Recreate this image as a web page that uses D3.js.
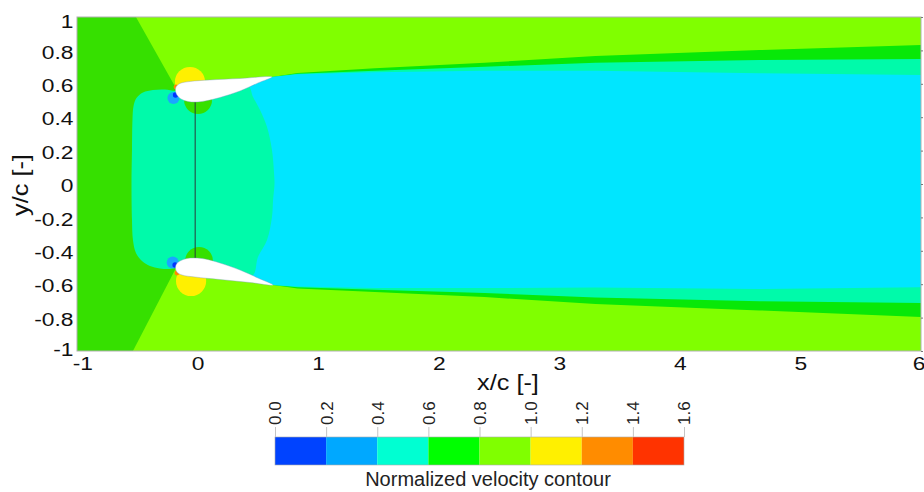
<!DOCTYPE html>
<html>
<head>
<meta charset="utf-8">
<script src="https://cdnjs.cloudflare.com/ajax/libs/d3/7.8.5/d3.min.js"></script>
<style>
  body { margin: 0; background: #fff; }
  svg { display: block; font-family: "Liberation Sans", Arial, sans-serif; }
</style>
</head>
<body>
<svg id="chart"></svg>
<script>
// tick values
var xTicks = [-1, 0, 1, 2, 3, 4, 5, 6];
var yTicks = [-1, -0.8, -0.6, -0.4, -0.2, 0, 0.2, 0.4, 0.6, 0.8, 1];

// colour bar
var levels = [0.0, 0.2, 0.4, 0.6, 0.8, 1.0, 1.2, 1.4, 1.6];
var levelColors = ["#0043ff", "#00a8ff", "#00ffd2", "#00ff00", "#80ff00", "#fff000", "#ff8c00", "#ff3300"];

// contour colours as they show up in the field
var fieldColors = {
    yellowGreen: "#80ff00",
    green: "#36e000",
    wakeGreen: "#08e808",
    aqua: "#00faaa",
    cyan: "#00e6ff",
    lightBlue: "#1aa6ff",
    blue: "#0035ff",
    yellow: "#fff000",
    orange: "#ff8800"
};

// region outlines, (x/c, y/c)
var greenWedge = [[-1, 1], [-0.511, 1], [-0.18, 0.575], [-0.18, -0.505], [-0.536, -1], [-1, -1]];

var wakeTopOuter = [[0.617, 0.641], [0.83, 0.664], [1.47, 0.693], [2.38, 0.726], [3.30, 0.766], [4.66, 0.802], [6.0, 0.832]];
var wakeTopMid = [[0.617, 0.641], [0.83, 0.660], [1.47, 0.678], [2.38, 0.702], [3.30, 0.726], [4.66, 0.743], [6.0, 0.749]];
var wakeTopInner = [[0.617, 0.641], [0.83, 0.657], [1.47, 0.669], [2.38, 0.678], [3.30, 0.678], [4.66, 0.663], [6.0, 0.653]];
var wakeBotOuter = [[0.626, -0.605], [0.83, -0.625], [1.47, -0.647], [2.38, -0.677], [3.30, -0.719], [4.66, -0.757], [6.0, -0.796]];
var wakeBotMid = [[0.626, -0.605], [0.83, -0.618], [1.47, -0.633], [2.38, -0.653], [3.30, -0.680], [4.66, -0.702], [6.0, -0.713]];
var wakeBotInner = [[0.626, -0.605], [0.83, -0.614], [1.47, -0.623], [2.38, -0.623], [3.30, -0.620], [4.66, -0.629], [6.0, -0.619]];
var wakeRoot = [[0.35, -0.55], [0.35, 0.59]];

var bulb = [
    [-0.179, 0.557], [-0.270, 0.566], [-0.370, 0.563], [-0.453, 0.548], [-0.507, 0.515],
    [-0.531, 0.467], [-0.540, 0.383], [-0.544, 0.204], [-0.548, 0.0], [-0.544, -0.216],
    [-0.536, -0.335], [-0.511, -0.413], [-0.461, -0.461], [-0.395, -0.491], [-0.312, -0.506],
    [-0.229, -0.509], [-0.179, -0.503], [0.103, -0.485], [0.451, -0.551], [0.501, -0.437],
    [0.576, -0.335], [0.617, -0.198], [0.626, -0.096], [0.638, 0.0], [0.634, 0.066],
    [0.617, 0.204], [0.576, 0.341], [0.518, 0.443], [0.460, 0.521], [0.418, 0.587], [0.103, 0.551]
];

// small pressure spots near the leading edges: [x, y, r]
var spots = [
    {c: "yellow", p: [-0.063, 0.611, 0.125]},
    {c: "green", p: [0.004, 0.503, 0.116]},
    {c: "green", p: [0.012, -0.461, 0.116]},
    {c: "yellow", p: [-0.054, -0.581, 0.125]},
    {c: "lightBlue", p: [-0.200, 0.515, 0.05]},
    {c: "lightBlue", p: [-0.206, -0.470, 0.05]},
    {c: "blue", p: [-0.183, 0.533, 0.022]},
    {c: "blue", p: [-0.187, -0.485, 0.022]},
    {c: "orange", p: [-0.179, 0.581, 0.02]},
    {c: "orange", p: [-0.171, -0.533, 0.02]}
];

var upperFoil = [
    [0.617, 0.641], [0.352, 0.632], [0.103, 0.623], [-0.063, 0.614], [-0.146, 0.602],
    [-0.179, 0.581], [-0.183, 0.557], [-0.171, 0.533], [-0.137, 0.509], [-0.079, 0.494],
    [-0.013, 0.491], [0.062, 0.497], [0.186, 0.518], [0.352, 0.557], [0.501, 0.605]
];
var lowerFoil = [
    [0.626, -0.605], [0.435, -0.590], [0.186, -0.572], [-0.021, -0.557], [-0.129, -0.545],
    [-0.171, -0.527], [-0.183, -0.503], [-0.175, -0.479], [-0.146, -0.461], [-0.088, -0.446],
    [-0.021, -0.443], [0.062, -0.449], [0.186, -0.473], [0.352, -0.515], [0.501, -0.563]
];
var chordLine = [[-0.02, 0.49], [-0.02, -0.445]];

var width = 924, height = 492;
var plot = {left: 77, right: 921, top: 17, bottom: 351};

var svg = d3.select("#chart").attr("width", width).attr("height", height);

var x = d3.scaleLinear().domain([-1, 6]).range([plot.left, plot.right]);
var y = d3.scaleLinear().domain([-1, 1]).range([plot.bottom, plot.top]);

svg.append("clipPath").attr("id", "plotClip")
    .append("rect")
    .attr("x", plot.left).attr("y", plot.top)
    .attr("width", plot.right - plot.left).attr("height", plot.bottom - plot.top);

var field = svg.append("g").attr("clip-path", "url(#plotClip)");

var poly = d3.line().x(function (d) { return x(d[0]); }).y(function (d) { return y(d[1]); })
    .curve(d3.curveLinearClosed);
var smooth = d3.line().x(function (d) { return x(d[0]); }).y(function (d) { return y(d[1]); })
    .curve(d3.curveCatmullRomClosed.alpha(0.5));
var segment = d3.line().x(function (d) { return x(d[0]); }).y(function (d) { return y(d[1]); });

field.append("rect")
    .attr("x", plot.left).attr("y", plot.top)
    .attr("width", plot.right - plot.left).attr("height", plot.bottom - plot.top)
    .attr("fill", fieldColors.yellowGreen);

field.append("path").attr("d", poly(greenWedge)).attr("fill", fieldColors.green);

var wakeBands = [
    {fill: fieldColors.wakeGreen, top: wakeTopOuter, bot: wakeBotOuter},
    {fill: fieldColors.aqua, top: wakeTopMid, bot: wakeBotMid},
    {fill: fieldColors.cyan, top: wakeTopInner, bot: wakeBotInner}
];
wakeBands.forEach(function (b) {
    var pts = b.top.concat(b.bot.slice().reverse(), wakeRoot);
    field.append("path").attr("d", poly(pts)).attr("fill", b.fill);
});

field.append("path").attr("d", smooth(bulb)).attr("fill", fieldColors.aqua);

field.selectAll(".spot")
    .data(spots)
    .enter().append("circle")
    .attr("class", "spot")
    .attr("cx", function (d) { return x(d.p[0]); })
    .attr("cy", function (d) { return y(d.p[1]); })
    .attr("r", function (d) { return x(d.p[2]) - x(0); })
    .attr("fill", function (d) { return fieldColors[d.c]; });

field.append("path")
    .attr("d", segment(chordLine))
    .attr("stroke", "#2a3a3a").attr("stroke-width", 1).attr("fill", "none");

field.selectAll(".foil")
    .data([upperFoil, lowerFoil])
    .enter().append("path")
    .attr("class", "foil")
    .attr("d", function (d) { return smooth(d); })
    .attr("fill", "#fff")
    .attr("stroke", "#7f9cc8").attr("stroke-width", 0.4);

svg.append("rect")
    .attr("x", plot.left).attr("y", plot.top)
    .attr("width", plot.right - plot.left).attr("height", plot.bottom - plot.top)
    .attr("fill", "none").attr("stroke", "#b0b0b0").attr("stroke-width", 1);

// axes
var xAxis = svg.append("g")
    .attr("transform", "translate(0," + plot.bottom + ")")
    .call(d3.axisBottom(x).tickValues(xTicks).tickSize(0).tickPadding(6)
        .tickFormat(function (d) { return String(d); }));
var yAxis = svg.append("g")
    .attr("transform", "translate(" + plot.left + ",0)")
    .call(d3.axisLeft(y).tickValues(yTicks).tickSize(0).tickPadding(3)
        .tickFormat(function (d) { return String(d); }));
svg.append("g")
    .attr("transform", "translate(" + plot.right + ",0)")
    .call(d3.axisRight(y).tickValues(yTicks).tickSize(2).tickFormat(""))
    .call(function (g) { g.select(".domain").remove(); })
    .selectAll("line").attr("stroke", "#777");

[xAxis, yAxis].forEach(function (g) {
    g.select(".domain").remove();
    g.selectAll("text")
        .attr("fill", "#111")
        .style("font-size", "19px")
        .attr("transform", "scale(1.2,1)");
});
yAxis.selectAll("text").attr("dy", "0.4em");
yAxis.selectAll(".tick").filter(function (d) { return d === 1; }).select("text").attr("y", 3);
yAxis.selectAll(".tick").filter(function (d) { return d === -1; }).select("text").attr("y", -3);
xAxis.selectAll(".tick").filter(function (d) { return d === -1; }).select("text").attr("x", 4.5);
// last x label sits on the window edge, keep it inside
xAxis.selectAll(".tick").filter(function (d) { return d === 6; }).select("text").attr("x", -2);

svg.append("text")
    .attr("transform", "translate(508,390) scale(1.15,1)")
    .attr("text-anchor", "middle")
    .style("font-size", "22px")
    .attr("fill", "#111")
    .text("x/c [-]");
svg.append("text")
    .attr("transform", "translate(28,185) rotate(-90) scale(1.15,1)")
    .attr("text-anchor", "middle")
    .style("font-size", "22px")
    .attr("fill", "#111")
    .text("y/c [-]");

// colour bar
var cb = d3.scaleLinear().domain([0, 1.6]).range([275, 684]);
var cbTop = 437, cbHeight = 28;
var bins = levelColors.map(function (c, i) { return {lo: levels[i], hi: levels[i + 1], color: c}; });

svg.selectAll(".cbin")
    .data(bins)
    .enter().append("rect")
    .attr("class", "cbin")
    .attr("x", function (d) { return cb(d.lo); })
    .attr("y", cbTop)
    .attr("width", function (d) { return cb(d.hi) - cb(d.lo); })
    .attr("height", cbHeight)
    .attr("fill", function (d) { return d.color; });
svg.append("rect")
    .attr("x", cb(0)).attr("y", cbTop)
    .attr("width", cb(1.6) - cb(0)).attr("height", cbHeight)
    .attr("fill", "none").attr("stroke", "#aaa").attr("stroke-width", 0.6);

var cbAxis = svg.append("g")
    .attr("transform", "translate(0," + cbTop + ")")
    .call(d3.axisTop(cb).tickValues(levels).tickSize(10).tickFormat(d3.format(".1f")));
cbAxis.select(".domain").remove();
cbAxis.selectAll("line").attr("stroke", "#c4c4c4");
cbAxis.selectAll("text")
    .attr("transform", "rotate(-90)")
    .attr("x", 12).attr("y", 0).attr("dy", "0.35em")
    .style("text-anchor", "start")
    .style("font-size", "17px")
    .attr("fill", "#222");

svg.append("text")
    .attr("x", 488).attr("y", 486)
    .attr("text-anchor", "middle")
    .style("font-size", "20px")
    .attr("fill", "#222")
    .text("Normalized velocity contour");
</script>
</body>
</html>
